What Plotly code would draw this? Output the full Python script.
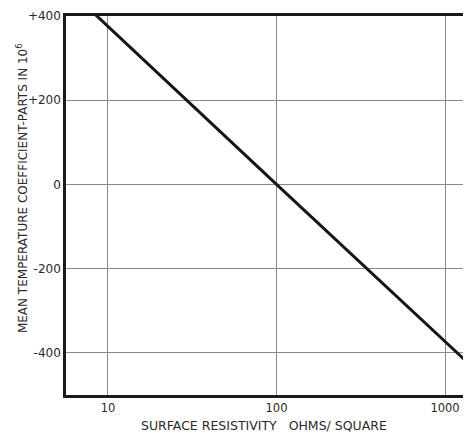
import plotly.graph_objects as go

resistivity = [7.6, 100, 1430]
temp_coeff = [420, 0, -431]

x_tickvals = [10, 100, 1000]
x_ticktext = ["10", "100", "1000"]
y_tickvals = [400, 200, 0, -200, -400]
y_ticktext = ["+400", "+200", "0", "-200", "-400"]

x_title = "SURFACE RESISTIVITY &nbsp; OHMS/ SQUARE"
y_title = "MEAN TEMPERATURE COEFFICIENT-PARTS IN 10<sup>6</sup>"

fig = go.Figure()
fig.add_trace(go.Scatter(
    x=resistivity, y=temp_coeff, mode="lines",
    line=dict(color="#161616", width=3),
    showlegend=False, hoverinfo="skip",
))

font_family = "DejaVu Sans, Verdana, sans-serif"

fig.update_layout(
    width=471, height=433,
    margin=dict(l=58, r=8, t=8, b=46, autoexpand=False),
    paper_bgcolor="white", plot_bgcolor="white",
    font=dict(family=font_family, size=10, color="#2a2a2a"),
    xaxis=dict(
        type="log", range=[0.751, 3.154],
        tickvals=x_tickvals, ticktext=x_ticktext,
        showgrid=True, gridcolor="#8a8a8a", gridwidth=1,
        showline=True, linecolor="#1a1a1a", linewidth=2.5, mirror=True,
        ticks="", zeroline=False,
        tickfont=dict(size=11.5),
    ),
    yaxis=dict(
        range=[-500, 400],
        tickvals=y_tickvals, ticktext=y_ticktext,
        showgrid=True, gridcolor="#8a8a8a", gridwidth=1,
        showline=True, linecolor="#1a1a1a", linewidth=2.5, mirror=False,
        ticks="", zeroline=False,
        tickfont=dict(size=12),
    ),
    annotations=[
        dict(text=x_title, xref="paper", yref="paper", x=0.49, y=0,
             yshift=-30, xanchor="center", yanchor="middle", showarrow=False,
             font=dict(size=12.5, color="#2a2a2a")),
        dict(text=y_title, xref="paper", yref="paper", x=0, y=0.546,
             xshift=-44, xanchor="center", yanchor="middle", showarrow=False,
             textangle=-90, font=dict(size=12, color="#2a2a2a")),
    ],
)

fig.write_html("out.html")
